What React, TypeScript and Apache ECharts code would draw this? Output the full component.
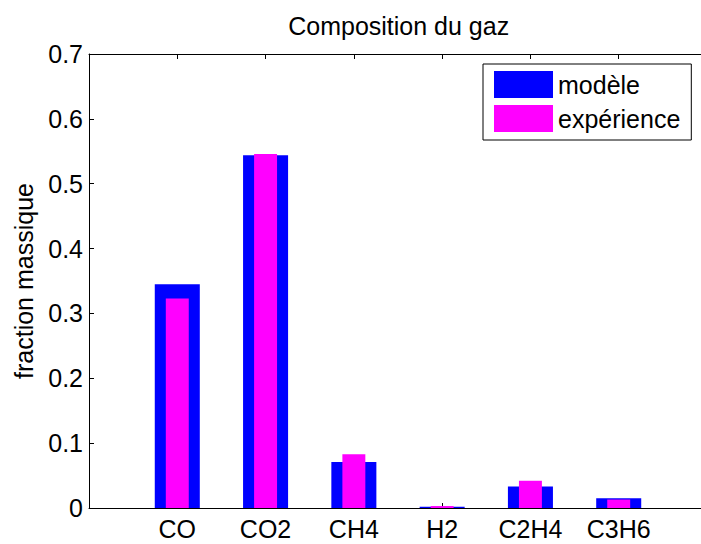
import React, { useEffect, useRef } from "react";
import * as echarts from "echarts";

const categories = ["CO", "CO2", "CH4", "H2", "C2H4", "C3H6"];
const modele = [0.345, 0.544, 0.071, 0.002, 0.033, 0.015];
const experience = [0.323, 0.546, 0.083, 0.003, 0.042, 0.013];
const yTickLabels = ["0", "0.1", "0.2", "0.3", "0.4", "0.5", "0.6", "0.7"];
const seriesNames = ["modèle", "expérience"];
const axisCategories = ["", ...categories, " "];

const FONT = "'Liberation Sans', Arial, Helvetica, sans-serif";

export default function App() {
  const ref = useRef<HTMLDivElement>(null);

  useEffect(() => {
    if (!ref.current) return;
    const chart = echarts.init(ref.current, undefined, { renderer: "svg" });
    const axisLine = { show: true, lineStyle: { color: "#000", width: 1 } };
    const tickInterval = (i: number) => i > 0 && i < axisCategories.length - 1;
    chart.setOption({
      animation: false,
      backgroundColor: "#fff",
      textStyle: { fontFamily: FONT },
      title: {
        text: "Composition du gaz",
        left: 398.7,
        top: 13,
        textAlign: "center",
        padding: 0,
        textStyle: { fontFamily: FONT, fontSize: 25, fontWeight: "normal", color: "#000", lineHeight: 25 },
      },
      legend: {
        data: seriesNames,
        orient: "vertical",
        left: 483,
        top: 64,
        itemWidth: 59,
        itemHeight: 27,
        itemGap: 7,
        padding: [7, 11, 8, 11],
        borderColor: "#000",
        borderWidth: 1,
        borderRadius: 0,
        backgroundColor: "#fff",
        icon: "rect",
        textStyle: { fontFamily: FONT, fontSize: 25, color: "#000", lineHeight: 27 },
      },
      grid: { left: 89, top: 54, right: -6, bottom: 36, outerBoundsMode: "none", containLabel: false },
      xAxis: [
        {
          type: "category",
          data: axisCategories,
          boundaryGap: false,
          position: "bottom",
          axisLine,
          axisTick: { show: true, inside: true, length: 5, interval: tickInterval, lineStyle: { color: "#000" } },
          axisLabel: { interval: 0, margin: 8, fontSize: 25, color: "#000", fontFamily: FONT, lineHeight: 25 },
          splitLine: { show: false },
        },
        {
          type: "category",
          data: axisCategories,
          boundaryGap: false,
          position: "top",
          axisLine,
          axisTick: { show: true, inside: true, length: 5, interval: tickInterval, lineStyle: { color: "#000" } },
          axisLabel: { show: false },
          splitLine: { show: false },
        },
      ],
      yAxis: {
        type: "value",
        min: 0,
        max: 0.7,
        interval: 0.1,
        name: "fraction massique",
        nameLocation: "middle",
        nameGap: 53,
        nameTextStyle: { fontFamily: FONT, fontSize: 25, color: "#000", lineHeight: 25 },
        axisLine,
        axisTick: { show: true, inside: true, length: 5, lineStyle: { color: "#000" } },
        axisLabel: {
          margin: 6,
          fontSize: 25,
          color: "#000",
          fontFamily: FONT,
          formatter: (v: number) => yTickLabels[Math.round(v * 10)] ?? String(v),
        },
        splitLine: { show: false },
      },
      series: [
        {
          type: "bar",
          name: seriesNames[0],
          xAxisIndex: 0,
          barWidth: "51%",
          itemStyle: { color: "#0000ff" },
          data: categories.map((c, i) => [i + 1, modele[i]]),
        },
        {
          type: "bar",
          name: seriesNames[1],
          xAxisIndex: 1,
          barWidth: "26%",
          itemStyle: { color: "#ff00ff" },
          data: categories.map((c, i) => [i + 1, experience[i]]),
        },
      ],
    });
    return () => chart.dispose();
  }, []);

  return (
    <div
      ref={ref}
      style={{ position: "absolute", left: 0, top: 0, width: 701, height: 544 }}
    />
  );
}
